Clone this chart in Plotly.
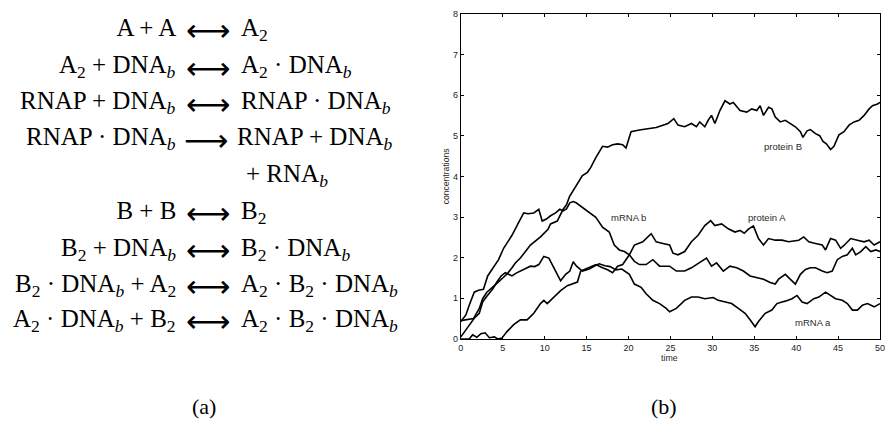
import plotly.graph_objects as go

# ---------------- data ----------------
t_protein_b = [0, 0.5, 1.0, 1.5, 2.2, 2.6, 3.1, 3.5, 4.2, 5.0, 5.6, 6.1, 6.5, 7.1, 8.3, 9.5, 10.4,
               10.7, 11.5, 12.2, 12.6, 12.96, 13.2, 13.75, 14.5, 15.1, 15.5, 16.1, 16.9, 17.5,
               18.1, 18.7, 19.3, 19.7, 20.3, 21.3, 22.5, 23.3, 24.1, 24.7, 25.4, 25.9, 26.7,
               27.5, 28.1, 28.5, 29.1, 29.5, 29.9, 30.3, 30.9, 31.5, 32.1, 32.5, 33.3, 34.1,
               34.7, 35.3, 35.7, 36.1, 36.7, 37.1, 37.5, 38.1, 38.7, 39.3, 39.9, 40.5, 40.8,
               41.3, 41.7, 42.3, 42.8, 43.2, 43.6, 44.1, 44.5, 45.1, 45.7, 46.3, 46.9, 47.5,
               48.1, 48.7, 49.1, 49.7, 50]
v_protein_b = [0.45, 0.47, 0.48, 0.5, 0.75, 0.99, 1.15, 1.23, 1.35, 1.5, 1.62, 1.75, 1.87, 1.99,
               2.31, 2.51, 2.7, 2.83, 2.9, 3.19, 3.3, 3.5, 3.58, 3.74, 4.02, 4.1, 4.22, 4.46,
               4.74, 4.72, 4.78, 4.8, 4.78, 4.70, 5.10, 5.14, 5.18, 5.2, 5.26, 5.3, 5.42, 5.26,
               5.22, 5.30, 5.22, 5.34, 5.22, 5.38, 5.5, 5.30, 5.62, 5.86, 5.78, 5.82, 5.62,
               5.58, 5.66, 5.62, 5.74, 5.5, 5.70, 5.66, 5.46, 5.34, 5.38, 5.30, 5.22, 5.10,
               4.96, 5.12, 5.15, 5.05, 5.0, 4.86, 4.8, 4.66, 4.74, 5.02, 5.10, 5.26, 5.34,
               5.38, 5.5, 5.66, 5.74, 5.78, 5.82]

t_mrna_b = [0, 0.6, 1.0, 1.6, 2.1, 2.7, 3.2, 3.9, 4.5, 5.1, 6.1, 6.9, 7.5, 8.0, 8.7, 9.3, 9.7,
            10.2, 10.7, 11.3, 11.8, 12.2, 12.6, 13.0, 13.4, 13.75, 14.5, 15.3, 16.1, 16.9,
            17.7, 18.3, 18.9, 19.5, 20.1, 20.7, 21.3, 22.1, 22.9, 23.7, 24.9, 25.7, 26.7,
            27.5, 28.1, 28.7, 29.3, 29.9, 30.5, 31.3, 32.1, 32.9, 33.7, 34.5, 35.3, 36.1,
            36.9, 37.5, 37.9, 38.7, 39.5, 39.9, 40.5, 41.1, 41.7, 42.3, 43.1, 43.7, 44.3,
            44.9, 45.5, 46.1, 46.7, 47.1, 47.7, 48.3, 48.9, 49.5, 50]
v_mrna_b = [0.43, 0.59, 0.83, 1.15, 1.2, 1.22, 1.55, 1.75, 1.95, 2.23, 2.55, 2.87, 3.1, 3.08,
            3.1, 3.19, 2.9, 2.95, 3.03, 3.1, 3.19, 3.15, 3.2, 3.35, 3.38, 3.35, 3.23, 3.1,
            2.99, 2.75, 2.63, 2.31, 2.19, 2.15, 2.07, 1.91, 1.83, 1.83, 1.95, 1.79, 1.79,
            1.67, 1.67, 1.75, 1.83, 1.91, 1.99, 1.79, 1.87, 1.67, 1.79, 1.75, 1.67, 1.55,
            1.51, 1.47, 1.39, 1.35, 1.47, 1.59, 1.43, 1.35, 1.59, 1.71, 1.75, 1.75, 1.67,
            1.63, 1.67, 1.95, 2.03, 2.07, 2.23, 2.07, 2.15, 2.27, 2.15, 2.19, 2.15]

t_protein_a = [0, 1.0, 1.4, 1.9, 2.4, 2.9, 3.4, 4.0, 4.4, 4.9, 5.5, 6.3, 7.1, 7.9, 8.7, 9.5,
               9.9, 10.3, 11.1, 11.9, 12.7, 13.3, 13.9, 14.3, 14.8, 15.3, 16.1, 16.9, 17.5,
               18.1, 18.7, 19.3, 20.1, 20.7, 21.7, 22.7, 23.3, 24.1, 24.9, 25.3, 25.9, 26.7,
               27.5, 28.3, 29.1, 29.8, 30.3, 31.1, 31.9, 32.7, 33.3, 33.8, 34.3, 34.9, 35.5,
               36.1, 36.7, 37.5, 38.3, 39.1, 39.7, 40.3, 40.9, 41.5, 42.3, 43.1, 43.5, 44.1,
               44.7, 45.3, 45.7, 46.5, 47.3, 48.1, 48.7, 49.3, 50]
v_protein_a = [0, 0.0, 0.1, 0.04, 0.13, 0.15, 0.03, 0.05, 0.0, 0.02, 0.18, 0.35, 0.47, 0.47,
               0.63, 0.87, 0.95, 0.87, 1.03, 1.19, 1.31, 1.35, 1.4, 1.67, 1.72, 1.75, 1.83,
               1.75, 1.7, 1.63, 1.79, 1.83, 2.07, 2.31, 2.39, 2.59, 2.39, 2.35, 2.31, 2.11,
               2.07, 2.15, 2.39, 2.55, 2.79, 2.91, 2.79, 2.83, 2.71, 2.63, 2.67, 2.6, 2.7,
               2.78, 2.47, 2.31, 2.47, 2.43, 2.43, 2.39, 2.41, 2.43, 2.51, 2.39, 2.35, 2.31,
               2.19, 2.47, 2.43, 2.23, 2.3, 2.47, 2.43, 2.39, 2.43, 2.31, 2.39]

t_mrna_a = [0, 0.6, 1.2, 1.6, 2.2, 2.6, 3.1, 3.8, 4.3, 4.8, 5.3, 5.8, 6.1, 6.6, 7.1, 7.7, 8.3,
            8.8, 9.3, 9.9, 10.5, 11.1, 11.5, 11.9, 12.5, 13.0, 13.4, 13.8, 14.5, 15.3, 16.0,
            16.5, 17.2, 17.8, 18.5, 19.2, 20.1, 20.7, 21.5, 22.1, 22.9, 23.7, 24.5, 24.9,
            25.7, 26.7, 27.5, 28.3, 29.1, 30.1, 30.7, 31.5, 32.3, 33.1, 33.9, 34.5, 35.1,
            35.5, 36.3, 37.1, 37.7, 38.3, 38.7, 39.5, 40.1, 40.7, 41.3, 42.1, 42.7, 43.5,
            44.1, 44.7, 45.5, 46.1, 46.7, 47.3, 47.9, 48.5, 49.3, 49.7, 50]
v_mrna_a = [0.05, 0.23, 0.39, 0.51, 0.63, 0.91, 1.05, 1.23, 1.4, 1.55, 1.63, 1.58, 1.55, 1.62,
            1.67, 1.72, 1.79, 1.78, 1.83, 2.03, 1.99, 1.75, 1.6, 1.43, 1.59, 1.67, 1.9, 1.79,
            1.67, 1.72, 1.8, 1.85, 1.8, 1.78, 1.7, 1.72, 1.59, 1.35, 1.27, 1.11, 0.95, 0.87,
            0.75, 0.67, 0.75, 0.95, 1.03, 1.03, 0.99, 1.02, 0.95, 0.91, 0.87, 0.75, 0.63,
            0.47, 0.3, 0.43, 0.63, 0.71, 0.87, 0.91, 0.93, 0.99, 1.07, 0.91, 0.87, 0.99,
            1.03, 1.15, 1.07, 0.99, 0.95, 0.87, 0.71, 0.71, 0.83, 0.87, 0.79, 0.83, 0.87]

series_names = ["protein B", "mRNA b", "protein A", "mRNA a"]
label_t = [38.4, 20.0, 36.5, 42.0]
label_v = [4.74, 2.99, 2.99, 0.41]

x_ticks = [0, 5, 10, 15, 20, 25, 30, 35, 40, 45, 50]
y_ticks = [0, 1, 2, 3, 4, 5, 6, 7, 8]

SUBB = "<sub><i>b</i></sub>"
NB = "<sub>\u00a0</sub>"
eq_left = [NB + "A + A",
           "A<sub>2</sub> + DNA" + SUBB,
           "RNAP + DNA" + SUBB,
           "RNAP · DNA" + SUBB,
           "",
           NB + "B + B",
           "B<sub>2</sub> + DNA" + SUBB,
           "B<sub>2</sub> · DNA" + SUBB + " + A<sub>2</sub>",
           "A<sub>2</sub> · DNA" + SUBB + " + B<sub>2</sub>"]
eq_arrow = ["⟷", "⟷", "⟷", "⟶", "", "⟷", "⟷", "⟷", "⟷"]
eq_right = ["A<sub>2</sub>",
            "A<sub>2</sub> · DNA" + SUBB,
            "RNAP · DNA" + SUBB,
            "RNAP + DNA" + SUBB,
            "+ RNA" + SUBB,
            "B<sub>2</sub>",
            "B<sub>2</sub> · DNA" + SUBB,
            "A<sub>2</sub> · B<sub>2</sub> · DNA" + SUBB,
            "A<sub>2</sub> · B<sub>2</sub> · DNA" + SUBB]
eq_row_y = [25, 63, 100, 137, 175, 212, 250, 287, 323]      # pixel rows
eq_arrow_x = [207, 207, 207, 205, 0, 207, 207, 207, 207]
eq_right_x = [238, 238, 238, 234, 243, 238, 238, 238, 238]

# ---------------- figure ----------------
W, H = 889, 424
def px(x):
    return x / W
def py(y):
    return 1 - y / H

fig = go.Figure()
for name, t, v in zip(series_names,
                      [t_protein_b, t_mrna_b, t_protein_a, t_mrna_a],
                      [v_protein_b, v_mrna_b, v_protein_a, v_mrna_a]):
    fig.add_trace(go.Scatter(x=t, y=v, mode="lines", name=name,
                             line=dict(color="black", width=1.6),
                             showlegend=False, hoverinfo="skip"))

ann = []
for name, lt, lv in zip(series_names, label_t, label_v):
    ann.append(dict(x=lt, y=lv, xref="x", yref="y", text=name, showarrow=False,
                    font=dict(family="Liberation Sans", size=9.5, color="#2a2a2a")))

SERIF = "Liberation Serif"
for L, A, R, yy, ax_, rx in zip(eq_left, eq_arrow, eq_right, eq_row_y, eq_arrow_x, eq_right_x):
    if L:
        ann.append(dict(x=px(177), y=py(yy), xref="paper", yref="paper", text=L,
                        showarrow=False, xanchor="right", yanchor="middle",
                        font=dict(family=SERIF, size=25, color="black")))
    if A:
        ann.append(dict(x=px(ax_), y=py(yy), xref="paper", yref="paper", text=A,
                        showarrow=False, xanchor="center", yanchor="middle",
                        yshift=-1,
                        font=dict(family="DejaVu Sans", size=31, color="black")))
    ann.append(dict(x=px(rx), y=py(yy), xref="paper", yref="paper", text=R,
                    showarrow=False, xanchor="left", yanchor="middle",
                    font=dict(family=SERIF, size=25, color="black")))

ann.append(dict(x=px(203), y=py(411), xref="paper", yref="paper", text="(a)",
                showarrow=False, xanchor="center", yanchor="middle",
                font=dict(family=SERIF, size=22, color="black")))
ann.append(dict(x=px(667), y=py(411), xref="paper", yref="paper", text="(b)",
                showarrow=False, xanchor="center", yanchor="middle",
                font=dict(family=SERIF, size=22, color="black")))
ann.append(dict(x=px(673), y=py(361.5), xref="paper", yref="paper", text="time",
                showarrow=False, xanchor="center", yanchor="middle",
                font=dict(family="Liberation Sans", size=8.8, color="#2a2a2a")))
ann.append(dict(x=px(447), y=py(175.5), xref="paper", yref="paper", text="concentrations",
                showarrow=False, xanchor="center", yanchor="middle", textangle=-90,
                font=dict(family="Liberation Sans", size=8.6, color="#2a2a2a")))

axis_common = dict(showline=True, linecolor="black", linewidth=1, mirror="ticks",
                   ticks="inside", ticklen=3, tickwidth=1, tickcolor="black",
                   showgrid=False, zeroline=False, ticklabeloverflow="allow",
                   tickfont=dict(family="Liberation Sans", size=9, color="#222"))

fig.update_layout(
    width=W, height=H, autosize=False,
    margin=dict(l=0, r=0, t=0, b=0, pad=0),
    paper_bgcolor="white", plot_bgcolor="white",
    xaxis=dict(domain=[px(462), px(885)], range=[0, 50], tickvals=x_ticks,
               ticktext=[str(v) for v in x_ticks], **axis_common),
    yaxis=dict(domain=[py(342), py(9)], range=[0, 8], tickvals=y_ticks,
               ticktext=[str(v) for v in y_ticks], **axis_common),
    annotations=ann,
)

fig.write_html("out.html",
               config={"displayModeBar": False, "responsive": False},
               post_script="document.body.style.margin='0';"
                           "document.body.style.overflow='hidden';"
                           "document.documentElement.style.overflow='hidden';")
